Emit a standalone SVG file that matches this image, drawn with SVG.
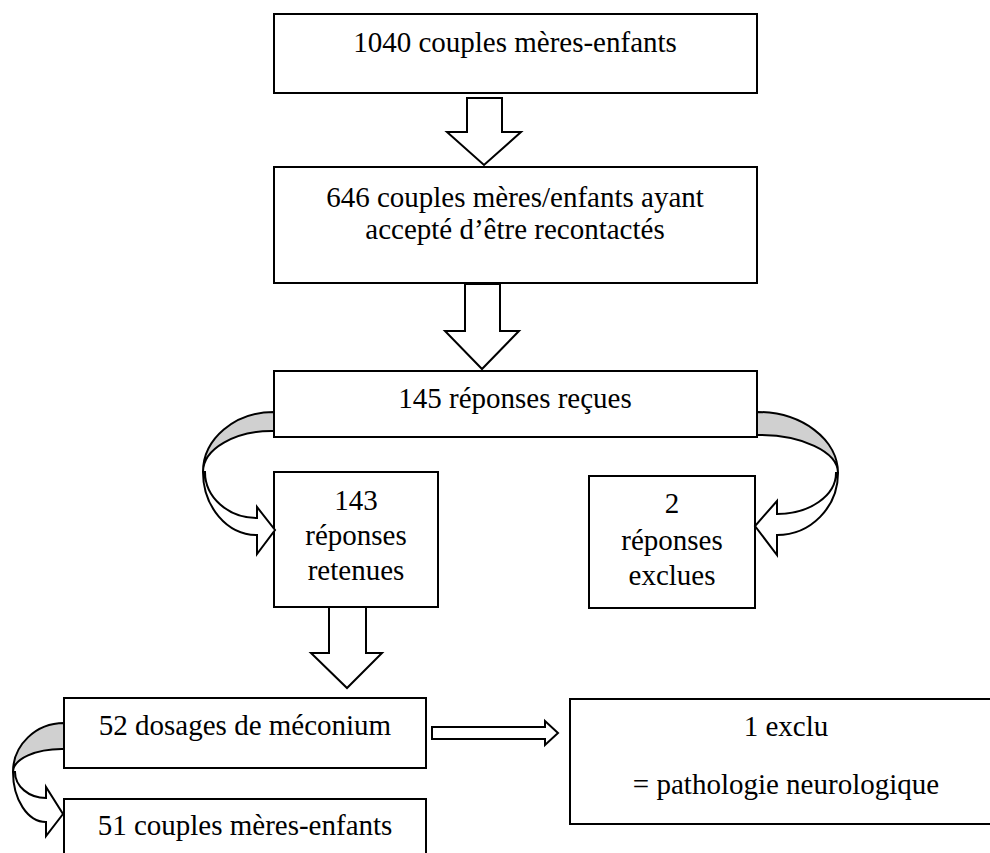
<svg xmlns="http://www.w3.org/2000/svg" width="990" height="853" viewBox="0 0 990 853">
<style>
.box{fill:#fff;stroke:#000;stroke-width:2}
.arr{fill:#fff;stroke:#000;stroke-width:2;stroke-linejoin:miter}
.back{fill:#d0d0d0;stroke:#000;stroke-width:2}
.t{font-family:'Liberation Serif','Times New Roman',serif;font-size:29px;fill:#000;text-anchor:middle}
</style>
<rect width="990" height="853" fill="#fff"/>
<g id="n1"><rect class="box" x="274" y="14" width="483" height="79"/><text class="t" x="515" y="52">1040 couples mères-enfants</text></g>
<g id="n2"><rect class="box" x="274" y="167" width="483" height="116"/><text class="t" x="515" y="207">646 couples mères/enfants ayant</text><text class="t" x="515" y="239">accepté d’être recontactés</text></g>
<g id="n3"><rect class="box" x="274" y="371" width="483" height="66"/><text class="t" x="515" y="408">145 réponses reçues</text></g>
<g id="n4"><rect class="box" x="274" y="472" width="164" height="135"/><text class="t" x="356" y="510">143</text><text class="t" x="356" y="545">réponses</text><text class="t" x="356" y="580">retenues</text></g>
<g id="n5"><rect class="box" x="589" y="476" width="166" height="132"/><text class="t" x="672" y="513">2</text><text class="t" x="672" y="550">réponses</text><text class="t" x="672" y="585">exclues</text></g>
<g id="n6"><rect class="box" x="64" y="698" width="362" height="70"/><text class="t" x="245" y="735">52 dosages de méconium</text></g>
<g id="n7"><rect class="box" x="64" y="799" width="362" height="70"/><text class="t" x="245" y="835">51 couples mères-enfants</text></g>
<g id="n8"><rect class="box" x="570" y="699" width="432" height="125"/><text class="t" x="786" y="736">1 exclu</text><text class="t" x="786" y="794">= pathologie neurologique</text></g>
<g id="connectors">
<path class="arr" d="M467,98 H502 V132 H521 L484,165 L447,132 H467 Z"/>
<path class="arr" d="M465,284 H500 V331 H519 L482,369 L445,331 H465 Z"/>
<path class="arr" d="M329,607 H366 V653 H382 L347,688 L311,653 H329 Z"/>
<path class="arr" d="M432,727 H545 V721 L558,733 L545,745 V739 H432 Z"/>
<path class="back" d="M274,412 A71,60 0 0 0 203,472 A69,41 0 0 1 274,431 Z"/>
<path class="arr" d="M203,472 A54,63 0 0 0 257,535 V554 L275,530 L257,507 V518 A52,46 0 0 1 205,472 Z"/>
<path class="back" d="M757,412 A81,61 0 0 1 838,473 A79,38 0 0 0 757,435 Z"/>
<path class="arr" d="M838,473 A61,62 0 0 1 777,535 V555 L755,526 L777,501 V514 A59,41 0 0 0 836,473 Z"/>
<path class="back" d="M64,723 A51,49 0 0 0 13,772 A49,23 0 0 1 64,749 Z"/>
<path class="arr" d="M13,772 A33,50 0 0 0 46,822 V836 L63,814 L46,787 V798 A31,26 0 0 1 15,772 Z"/>
</g>
</svg>
